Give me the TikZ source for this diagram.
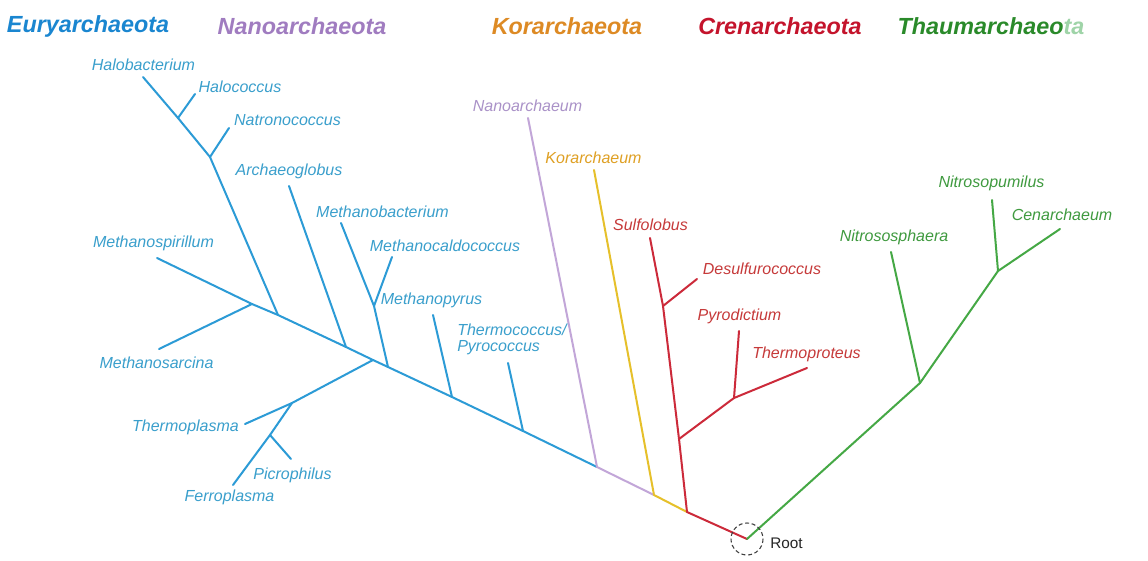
\documentclass[tikz,border=0pt]{standalone}
\usepackage{fontspec}
\setmainfont{Liberation Sans}
\definecolor{euryhead}{HTML}{1A86D0}
\definecolor{euryline}{HTML}{2C9BD6}
\definecolor{eurytext}{HTML}{3A9FCC}
\definecolor{nanohead}{HTML}{A07CC0}
\definecolor{nanoline}{HTML}{C2A6D8}
\definecolor{nanotext}{HTML}{AA92C8}
\definecolor{korhead}{HTML}{DD8A24}
\definecolor{korline}{HTML}{E6C02A}
\definecolor{kortext}{HTML}{DFA024}
\definecolor{crenhead}{HTML}{C4142C}
\definecolor{crenline}{HTML}{CC2A3A}
\definecolor{crentext}{HTML}{C63A3A}
\definecolor{thaumhead}{HTML}{2A8A2A}
\definecolor{thaumfade}{HTML}{9FD4A8}
\definecolor{thaumline}{HTML}{45A845}
\definecolor{thaumtext}{HTML}{3F9A3F}

\begin{document}
\begin{tikzpicture}[x=0.75pt,y=-0.75pt,
	branch/.style={line width=1.5pt,line cap=round,line join=round},
	taxon/.style={font=\fontsize{12}{12}\selectfont\itshape,inner sep=0pt},
	phylum/.style={font=\fontsize{17.5}{20}\selectfont\bfseries\itshape,inner sep=0pt}]
			%%%%% START %%%%%
			
			\fill[white] (0,0) rectangle (1148,560);
			\useasboundingbox (0,0) rectangle (1148,560);
			
			% phyla
			\node[phylum,text=euryhead] (eury) at (88,26) {Euryarchaeota};
			\node[phylum,text=nanohead] (nano) at (302,26) {Nanoarchaeota};
			\node[phylum,text=korhead] (kor) at (567,26) {Korarchaeota};
			\node[phylum,text=crenhead] (cren) at (780,26) {Crenarchaeota};
			\node[phylum,text=thaumhead] (thaum) at (991,26) {Thaumarchaeo\textcolor{thaumfade}{ta}};
			
			% tips and forks
			\coordinate (hbtip) at (143,77);
			\coordinate (hctip) at (195,94);
			\coordinate (hcjoin) at (178,118);
			\coordinate (nctip) at (229,128);
			\coordinate (ncjoin) at (210,157);
			\coordinate (agtip) at (289,186);
			\coordinate (mbtip) at (341,223);
			\coordinate (mctip) at (392,257);
			\coordinate (mcjoin) at (374,306);
			\coordinate (mptip) at (433,315);
			\coordinate (tctip) at (508,363);
			\coordinate (mstip) at (157,258);
			\coordinate (msjoin) at (252,304);
			\coordinate (sartip) at (159,349);
			\coordinate (halojoin) at (278,315);
			\coordinate (agjoin) at (346,347);
			\coordinate (tpjoin) at (373,360);
			\coordinate (methjoin) at (388,367);
			\coordinate (mpjoin) at (452,397);
			\coordinate (tcjoin) at (523,431);
			\coordinate (tptip) at (245,424);
			\coordinate (tpfork) at (292,403);
			\coordinate (pcjoin) at (270,435);
			\coordinate (pctip) at (291,459);
			\coordinate (fptip) at (233,485);
			\coordinate (natip) at (528,118);
			\coordinate (najoin) at (597,467);
			\coordinate (katip) at (594,170);
			\coordinate (kajoin) at (654,495);
			\coordinate (sbtip) at (650,238);
			\coordinate (dstip) at (697,279);
			\coordinate (dsjoin) at (663,306);
			\coordinate (pdtip) at (739,331);
			\coordinate (tprtip) at (807,368);
			\coordinate (pdjoin) at (734,398);
			\coordinate (tprjoin) at (679,439);
			\coordinate (crenjoin) at (687,512);
			\coordinate (root) at (747,539);
			\coordinate (nstip) at (891,252);
			\coordinate (nsjoin) at (920,383);
			\coordinate (nptip) at (992,200);
			\coordinate (centip) at (1060,229);
			\coordinate (npjoin) at (998,271);
			
			% Euryarchaeota
			\draw[branch,euryline] (mstip) -- (msjoin) -- (halojoin) -- (agjoin) -- (tpjoin) -- (methjoin) -- (mpjoin) -- (tcjoin) -- (najoin);
			\draw[branch,euryline] (hbtip) -- (hcjoin) -- (ncjoin) -- (halojoin);
			\draw[branch,euryline] (hctip) -- (hcjoin);
			\draw[branch,euryline] (nctip) -- (ncjoin);
			\draw[branch,euryline] (agtip) -- (agjoin);
			\draw[branch,euryline] (sartip) -- (msjoin);
			\draw[branch,euryline] (mbtip) -- (mcjoin) -- (methjoin);
			\draw[branch,euryline] (mctip) -- (mcjoin);
			\draw[branch,euryline] (mptip) -- (mpjoin);
			\draw[branch,euryline] (tctip) -- (tcjoin);
			\draw[branch,euryline] (tptip) -- (tpfork) -- (tpjoin);
			\draw[branch,euryline] (fptip) -- (pcjoin) -- (tpfork);
			\draw[branch,euryline] (pctip) -- (pcjoin);
			
			% Nanoarchaeota, Korarchaeota
			\draw[branch,nanoline] (natip) -- (najoin) -- (kajoin);
			\draw[branch,korline] (katip) -- (kajoin) -- (crenjoin);
			
			% Crenarchaeota
			\draw[branch,crenline] (sbtip) -- (dsjoin) -- (tprjoin) -- (crenjoin) -- (root);
			\draw[branch,crenline] (dstip) -- (dsjoin);
			\draw[branch,crenline] (tprjoin) -- (pdjoin) -- (tprtip);
			\draw[branch,crenline] (pdtip) -- (pdjoin);
			
			% Thaumarchaeota
			\draw[branch,thaumline] (root) -- (nsjoin) -- (npjoin) -- (centip);
			\draw[branch,thaumline] (nstip) -- (nsjoin);
			\draw[branch,thaumline] (nptip) -- (npjoin);
			
			% root
			\draw[black!75,dash pattern=on 3pt off 2pt,line width=0.8pt] (root) circle (16);
			\node[font=\fontsize{11.5}{13}\selectfont,text=black!85,inner sep=0pt] (rootlabel) at (786.5,543) {Root};
			
			% labels
			\node[taxon,text=eurytext] (halobacterium) at (143.5,65) {Halobacterium};
			\node[taxon,text=eurytext] (halococcus) at (240,87) {Halococcus};
			\node[taxon,text=eurytext] (natronococcus) at (287.5,120) {Natronococcus};
			\node[taxon,text=eurytext] (archaeoglobus) at (289,171) {Archaeoglobus};
			\node[taxon,text=eurytext] (methanobacterium) at (382.5,212) {Methanobacterium};
			\node[taxon,text=eurytext] (methanocaldococcus) at (445,246) {Methanocaldococcus};
			\node[taxon,text=eurytext] (methanospirillum) at (153.5,243) {Methanospirillum};
			\node[taxon,text=eurytext] (methanosarcina) at (156.5,363) {Methanosarcina};
			\node[taxon,text=eurytext] (methanopyrus) at (431.5,300) {Methanopyrus};
			\node[taxon,text=eurytext,align=left,anchor=west] (thermococcus) at (457,339) {Thermococcus/\\Pyrococcus};
			\node[taxon,text=eurytext] (thermoplasma) at (185.5,427) {Thermoplasma};
			\node[taxon,text=eurytext] (picrophilus) at (292.5,475) {Picrophilus};
			\node[taxon,text=eurytext] (ferroplasma) at (229.5,497) {Ferroplasma};
			\node[taxon,text=nanotext] (nanoarchaeum) at (527.5,106) {Nanoarchaeum};
			\node[taxon,text=kortext] (korarchaeum) at (593.5,158) {Korarchaeum};
			\node[taxon,text=crentext] (sulfolobus) at (650.5,225) {Sulfolobus};
			\node[taxon,text=crentext] (desulfurococcus) at (762,269) {Desulfurococcus};
			\node[taxon,text=crentext] (pyrodictium) at (739.5,316) {Pyrodictium};
			\node[taxon,text=crentext] (thermoproteus) at (806.5,354) {Thermoproteus};
			\node[taxon,text=thaumtext] (nitrososphaera) at (894,237) {Nitrososphaera};
			\node[taxon,text=thaumtext] (nitrosopumilus) at (991.5,183) {Nitrosopumilus};
			\node[taxon,text=thaumtext] (cenarchaeum) at (1062,215) {Cenarchaeum};
			
			%%%%% END %%%%%
		\end{tikzpicture}
\end{document}
